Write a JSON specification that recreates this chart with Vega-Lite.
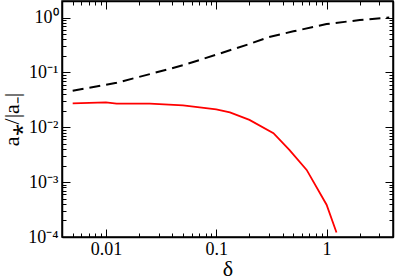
{
  "$schema": "https://vega.github.io/schema/vega-lite/v6.json",
  "width": 331,
  "height": 236,
  "autosize": {"type": "none"},
  "padding": {"left": 62, "top": 1, "right": 2, "bottom": 42},
  "background": "white",
  "config": {
    "view": {"stroke": "black", "strokeWidth": 1.5},
    "axis": {
      "labelFont": "Liberation Serif",
      "labelFontSize": 18,
      "labelColor": "black",
      "titleFont": "Liberation Serif",
      "titleFontSize": 22,
      "titleFontWeight": "normal",
      "titleColor": "black",
      "domainColor": "black",
      "domainWidth": 1.5,
      "tickColor": "black",
      "tickWidth": 1,
      "grid": false
    }
  },
  "datasets": {
    "dashed": [
      {"d": 0.005, "a": 0.0463},
      {"d": 0.0125, "a": 0.0647},
      {"d": 0.025, "a": 0.093},
      {"d": 0.05, "a": 0.135},
      {"d": 0.1, "a": 0.21},
      {"d": 0.2, "a": 0.33},
      {"d": 0.3, "a": 0.44},
      {"d": 0.5, "a": 0.56},
      {"d": 1.0, "a": 0.76},
      {"d": 2.0, "a": 0.9},
      {"d": 3.7, "a": 1.0}
    ],
    "red": [
      {"d": 0.005, "a": 0.0273},
      {"d": 0.01, "a": 0.0285},
      {"d": 0.0125, "a": 0.0269},
      {"d": 0.025, "a": 0.0269},
      {"d": 0.05, "a": 0.0251},
      {"d": 0.1, "a": 0.0212},
      {"d": 0.133, "a": 0.0187},
      {"d": 0.2, "a": 0.0136},
      {"d": 0.33, "a": 0.00778},
      {"d": 0.46, "a": 0.00387},
      {"d": 0.66, "a": 0.00167},
      {"d": 1.0, "a": 0.000387},
      {"d": 1.23, "a": 0.000121}
    ]
  },
  "layer": [
    {
      "data": {"name": "dashed"},
      "mark": {"type": "line", "color": "black", "strokeWidth": 2, "strokeDash": [11, 6], "clip": true},
      "encoding": {
        "x": {
          "field": "d", "type": "quantitative",
          "scale": {"type": "log", "domain": [0.004, 4], "nice": false},
          "axis": {
            "orient": "bottom",
            "title": "δ",
            "titlePadding": -4,
            "values": [0.004,0.005,0.006,0.007,0.008,0.009,0.01,0.02,0.03,0.04,0.05,0.06,0.07,0.08,0.09,0.1,0.2,0.3,0.4,0.5,0.6,0.7,0.8,0.9,1,2,3,4],
            "tickSize": {"condition": {"test": "abs(log(datum.value)/LN10 - round(log(datum.value)/LN10)) < 0.001", "value": -8}, "value": -4},
            "labelExpr": "abs(log(datum.value)/LN10 - round(log(datum.value)/LN10)) < 0.001 ? (datum.value >= 1 ? format(datum.value, 'd') : format(datum.value, '~g')) : ''",
            "labelPadding": 11,
            "labelFlush": false,
            "labelOverlap": false
          }
        },
        "y": {
          "field": "a", "type": "quantitative",
          "scale": {"type": "log", "domain": [0.0001, 2], "nice": false},
          "axis": {
            "orient": "left",
            "title": "a⁎/|a₋|",
            "titlePadding": 4,
            "values": [0.0001,0.0002,0.0003,0.0004,0.0005,0.0006,0.0007,0.0008,0.0009,0.001,0.002,0.003,0.004,0.005,0.006,0.007,0.008,0.009,0.01,0.02,0.03,0.04,0.05,0.06,0.07,0.08,0.09,0.1,0.2,0.3,0.4,0.5,0.6,0.7,0.8,0.9,1,2],
            "tickSize": {"condition": {"test": "abs(log(datum.value)/LN10 - round(log(datum.value)/LN10)) < 0.001", "value": -8}, "value": -4},
            "labelExpr": "abs(log(datum.value)/LN10) < 0.001 ? '10⁰' : abs(log(datum.value)/LN10 + 1) < 0.001 ? '10⁻¹' : abs(log(datum.value)/LN10 + 2) < 0.001 ? '10⁻²' : abs(log(datum.value)/LN10 + 3) < 0.001 ? '10⁻³' : abs(log(datum.value)/LN10 + 4) < 0.001 ? '10⁻⁴' : ''",
            "labelPadding": 12,
            "labelFlush": false,
            "labelOverlap": false
          }
        }
      }
    },
    {
      "data": {"name": "red"},
      "mark": {"type": "line", "color": "#ff0000", "strokeWidth": 1.8, "clip": true},
      "encoding": {
        "x": {
          "field": "d", "type": "quantitative",
          "axis": {
            "orient": "top",
            "title": null,
            "labels": false,
            "values": [0.004,0.005,0.006,0.007,0.008,0.009,0.01,0.02,0.03,0.04,0.05,0.06,0.07,0.08,0.09,0.1,0.2,0.3,0.4,0.5,0.6,0.7,0.8,0.9,1,2,3,4],
            "tickSize": {"condition": {"test": "abs(log(datum.value)/LN10 - round(log(datum.value)/LN10)) < 0.001", "value": -8}, "value": -4}
          }
        },
        "y": {
          "field": "a", "type": "quantitative",
          "axis": {
            "orient": "right",
            "title": null,
            "labels": false,
            "values": [0.0001,0.0002,0.0003,0.0004,0.0005,0.0006,0.0007,0.0008,0.0009,0.001,0.002,0.003,0.004,0.005,0.006,0.007,0.008,0.009,0.01,0.02,0.03,0.04,0.05,0.06,0.07,0.08,0.09,0.1,0.2,0.3,0.4,0.5,0.6,0.7,0.8,0.9,1,2],
            "tickSize": {"condition": {"test": "abs(log(datum.value)/LN10 - round(log(datum.value)/LN10)) < 0.001", "value": -8}, "value": -4}
          }
        }
      }
    }
  ],
  "resolve": {"axis": {"x": "independent", "y": "independent"}}
}
